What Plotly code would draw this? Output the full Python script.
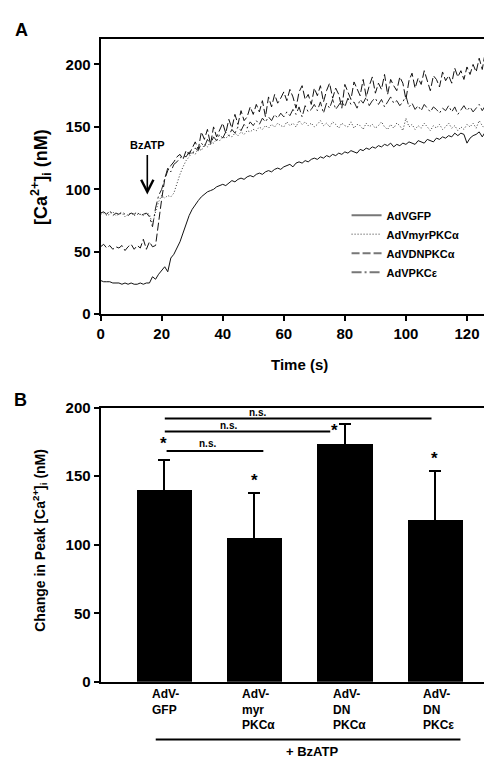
import plotly.graph_objects as go

W, H = 492, 761
FONT = "Liberation Sans, Arial, sans-serif"

# ---------------- Panel A data (time course) ----------------
time_s = list(range(128))

gfp = [27, 26, 26, 26, 25, 25, 25, 24, 25, 24, 25, 24, 24, 25, 24, 25, 25,
       30, 28, 32, 35, 38, 34, 45, 48, 53, 58, 65, 72, 79, 84,
       88, 91, 94, 96, 98, 99, 100, 102, 103, 104,
       103, 105, 107, 106, 108, 109, 108, 110, 111, 110,
       112, 113, 112, 114, 115, 114, 116, 117, 116, 118,
       119, 120, 118, 121, 122, 121, 123, 122, 124, 125,
       124, 126, 125, 127, 126, 128, 127, 129, 128, 130,
       129, 131, 130, 129, 132, 131, 133, 132, 134, 133,
       135, 134, 136, 135, 137, 134, 136, 135, 137, 136,
       138, 137, 136, 139, 138, 137, 140, 139, 138, 141,
       140, 142, 141, 143, 142, 145, 143, 145, 144, 137,
       141, 143, 144, 146, 142, 146, 142]

myr_pkca = [80, 81, 79, 80, 82, 79, 80, 81, 78, 80, 81, 79, 80, 80, 79, 81, 80,
            72, 82, 90, 95, 93, 95, 94, 97, 105, 112, 118, 123, 126, 130,
            128, 133, 131, 136, 134, 138, 137, 140, 139, 142,
            141, 143, 142, 145, 143, 146, 144, 147, 146, 148,
            147, 150, 148, 151, 149, 152, 150, 153, 151, 150,
            154, 151, 153, 150, 155, 152, 154, 151, 153, 150,
            152, 155, 151, 153, 150, 154, 152, 149, 153, 151,
            150, 154, 149, 152, 151, 148, 153, 150, 152, 149,
            151, 154, 150, 148, 152, 149, 153, 151, 147, 157,
            150, 152, 148, 151, 149, 153, 150, 147, 151, 149,
            152, 148, 150, 153, 149, 151, 147, 150, 148, 152,
            150, 153, 149, 155, 151, 148, 146]

dn_pkca = [54, 56, 53, 55, 52, 54, 53, 55, 51, 54, 56, 52, 55, 53, 60, 52, 58, 54,
           55, 75, 92, 108, 115, 119, 122, 126, 128, 124, 131, 128, 133,
           138, 132, 146, 140, 148, 136, 150, 142, 147, 153,
           145, 156, 149, 160, 152, 163, 155, 158, 166, 160,
           168, 162, 171, 158, 174, 166, 176, 169, 173, 178,
           171, 180, 174, 165, 178, 183, 172, 176, 168, 181,
           175, 183, 170, 179, 185, 173, 181, 176, 165, 184,
           178, 172, 186, 180, 175, 188, 174, 183, 190, 177,
           185, 180, 192, 176, 188, 183, 179, 190, 185, 172,
           187, 193, 181, 189, 184, 195, 186, 179, 191, 188,
           182, 194, 187, 191, 185, 197, 190, 195, 188, 198,
           192, 200, 194, 205, 196, 210, 193]

pkce = [81, 82, 80, 83, 79, 81, 80, 82, 80, 79, 81, 80, 82, 79, 80, 81, 78,
        70, 85, 95, 100, 108, 117, 114, 120, 122, 125, 127, 126, 130, 128,
        133, 131, 137, 134, 140, 136, 142, 139, 144, 141,
        146, 143, 148, 145, 150, 147, 152, 149, 154, 151,
        155, 152, 157, 154, 158, 155, 160, 157, 161, 158,
        162, 159, 164, 160, 166, 158, 167, 162, 164, 168,
        163, 170, 161, 169, 165, 172, 164, 168, 171, 166,
        173, 168, 170, 165, 172, 169, 174, 167, 171, 173,
        168, 172, 166, 170, 174, 169, 171, 167, 170, 175,
        166, 169, 164, 167, 163, 168, 165, 162, 166, 164,
        161, 165, 163, 167, 162, 166, 160, 164, 167, 163,
        166, 162, 165, 168, 163, 167, 164]

series_names = ["AdVGFP", "AdVmyrPKCα", "AdVDNPKCα", "AdVPKCε"]
series_values = [gfp, myr_pkca, dn_pkca, pkce]

# ---------------- Panel B data (bar chart) ----------------
bar_pos = [0, 1, 2, 3]
bar_labels = ["AdV-<br>GFP", "AdV-<br>myr<br>PKCα", "AdV-<br>DN<br>PKCα", "AdV-<br>DN<br>PKCε"]
bar_means = [140, 105, 174, 118]
bar_err = [22, 33, 14, 36]
star_x = [0.0, 1.0, 1.89, 2.99]
star_y = [176.5, 149.5, 186.5, 166]
ns_x0 = [0.01, 0.01, 0.03]
ns_x1 = [2.96, 1.84, 1.10]
ns_y = [192, 182.5, 168.3]
ns_label_x = [1.03, 0.71, 0.48]
ns_label_y = [196.4, 187.2, 173.7]


def px_x(p):
    return p / W


def px_y(p):
    return (H - p) / H


styles = [
    dict(color="#111111", width=1, dash="solid"),
    dict(color="#333333", width=1, dash="1px,2px"),
    dict(color="#111111", width=1, dash="8px,3px"),
    dict(color="#222222", width=1, dash="10px,3px,2px,3px"),
]
legend_styles = [
    dict(color="#777777", width=2, dash="solid"),
    dict(color="#777777", width=1.5, dash="1px,2px"),
    dict(color="#777777", width=2, dash="8px,3px"),
    dict(color="#777777", width=2, dash="10px,3px,2px,3px"),
]

fig = go.Figure()

for name, vals, st in zip(series_names, series_values, styles):
    fig.add_trace(go.Scatter(x=time_s, y=vals, mode="lines", line=st,
                             showlegend=False, xaxis="x", yaxis="y", hoverinfo="skip"))
for name, st in zip(series_names, legend_styles):
    fig.add_trace(go.Scatter(x=[None], y=[None], mode="lines", line=st, name=name,
                             xaxis="x", yaxis="y"))

fig.add_trace(go.Bar(x=bar_pos, y=bar_means, width=0.613,
                     marker=dict(color="black", line=dict(width=0)),
                     error_y=dict(type="data", symmetric=True, array=bar_err,
                                  color="black", thickness=2, width=6),
                     showlegend=False, xaxis="x2", yaxis="y2"))

axis_common = dict(showline=True, linecolor="black", linewidth=2, mirror=True,
                   showgrid=False, zeroline=False, ticks="outside", ticklen=5,
                   tickwidth=1.5, tickcolor="black",
                   tickfont=dict(family=FONT, size=15, color="black", weight="bold"))

fig.update_layout(
    width=W, height=H,
    margin=dict(l=0, r=0, t=0, b=0),
    paper_bgcolor="white", plot_bgcolor="white",
    font=dict(family=FONT, color="black", weight="bold"),
    xaxis=dict(domain=[px_x(89.5), px_x(490.5)], range=[0, 130], anchor="y",
               tickvals=[0, 20, 40, 60, 80, 100, 120], **axis_common),
    yaxis=dict(domain=[px_y(304), px_y(23)], range=[0, 220], anchor="x",
               tickvals=[0, 50, 100, 150, 200], **axis_common),
    xaxis2=dict(domain=[px_x(89.5), px_x(490.5)], range=[-0.7, 3.69], anchor="y2",
                showticklabels=False, showline=True, linecolor="black", linewidth=2,
                mirror=True, showgrid=False, zeroline=False, ticks=""),
    yaxis2=dict(domain=[px_y(680), px_y(399.5)], range=[0, 200], anchor="x2",
                tickvals=[0, 50, 100, 150, 200], **axis_common),
    legend=dict(x=px_x(338), y=px_y(188), xanchor="left", yanchor="top",
                bgcolor="rgba(0,0,0,0)", itemwidth=30, tracegroupgap=0,
                font=dict(family=FONT, size=11, color="black", weight="bold")),
    bargap=0,
)

ann = []
# panel letters
ann.append(dict(text="A", x=px_x(1), y=px_y(1), xref="paper", yref="paper",
                xanchor="left", yanchor="top", showarrow=False,
                font=dict(size=18, family=FONT, weight="bold")))
ann.append(dict(text="B", x=px_x(0), y=px_y(392), xref="paper", yref="paper",
                xanchor="left", yanchor="middle", showarrow=False,
                font=dict(size=18, family=FONT, weight="bold")))
# axis titles
ann.append(dict(text="[Ca<sup>2+</sup>]<sub>i</sub> (nM)", x=px_x(29), y=px_y(164),
                xref="paper", yref="paper", textangle=-90, showarrow=False,
                xanchor="center", yanchor="middle",
                font=dict(size=18, family=FONT, weight="bold")))
ann.append(dict(text="Time (s)", x=px_x(290), y=px_y(355), xref="paper", yref="paper",
                showarrow=False, xanchor="center", yanchor="middle",
                font=dict(size=15, family=FONT, weight="bold")))
ann.append(dict(text="Change in Peak [Ca<sup>2+</sup>]<sub>i</sub> (nM)", x=px_x(28), y=px_y(535),
                xref="paper", yref="paper", textangle=-90, showarrow=False,
                xanchor="center", yanchor="middle",
                font=dict(size=14, family=FONT, weight="bold")))
# BzATP arrow
ann.append(dict(text="", x=15.3, y=95.8, ax=15.3, ay=128.7, xref="x", yref="y",
                axref="x", ayref="y", showarrow=True, arrowhead=5, arrowsize=1.5,
                arrowwidth=1.6, arrowcolor="black"))
ann.append(dict(text="BzATP", x=15.5, y=135.8, xref="x", yref="y", showarrow=False,
                xanchor="center", yanchor="middle",
                font=dict(size=11, family=FONT, weight="bold")))
# bar category labels
for xp, lab in zip(bar_pos, bar_labels):
    ann.append(dict(text=lab, x=xp, y=0, xref="x2", yref="y2", xanchor="left",
                    yanchor="top", xshift=-14, yshift=-3, align="left", showarrow=False,
                    font=dict(size=12, family=FONT, weight="bold")))
# stars
for sx, sy in zip(star_x, star_y):
    ann.append(dict(text="*", x=sx, y=sy, xref="x2", yref="y2", showarrow=False,
                    xanchor="center", yanchor="middle", yshift=-4,
                    font=dict(size=17, family=FONT, weight="bold")))
# n.s. labels
for lx, ly in zip(ns_label_x, ns_label_y):
    ann.append(dict(text="n.s.", x=lx, y=ly, xref="x2", yref="y2", showarrow=False,
                    xanchor="center", yanchor="middle",
                    font=dict(size=10, family=FONT, weight="bold")))
# + BzATP
ann.append(dict(text="+ BzATP", x=px_x(303), y=px_y(751), xref="paper", yref="paper",
                showarrow=False, xanchor="center", yanchor="middle", borderpad=0,
                font=dict(size=13, family=FONT, weight="bold")))

shapes = []
for x0, x1, y in zip(ns_x0, ns_x1, ns_y):
    shapes.append(dict(type="line", xref="x2", yref="y2", x0=x0, x1=x1, y0=y, y1=y,
                       line=dict(color="black", width=2)))
shapes.append(dict(type="line", xref="x2", yref="paper", x0=-0.09, x1=3.28,
                   y0=px_y(739), y1=px_y(739), line=dict(color="black", width=2)))

fig.update_layout(annotations=ann, shapes=shapes)

fig.write_html("out.html")
